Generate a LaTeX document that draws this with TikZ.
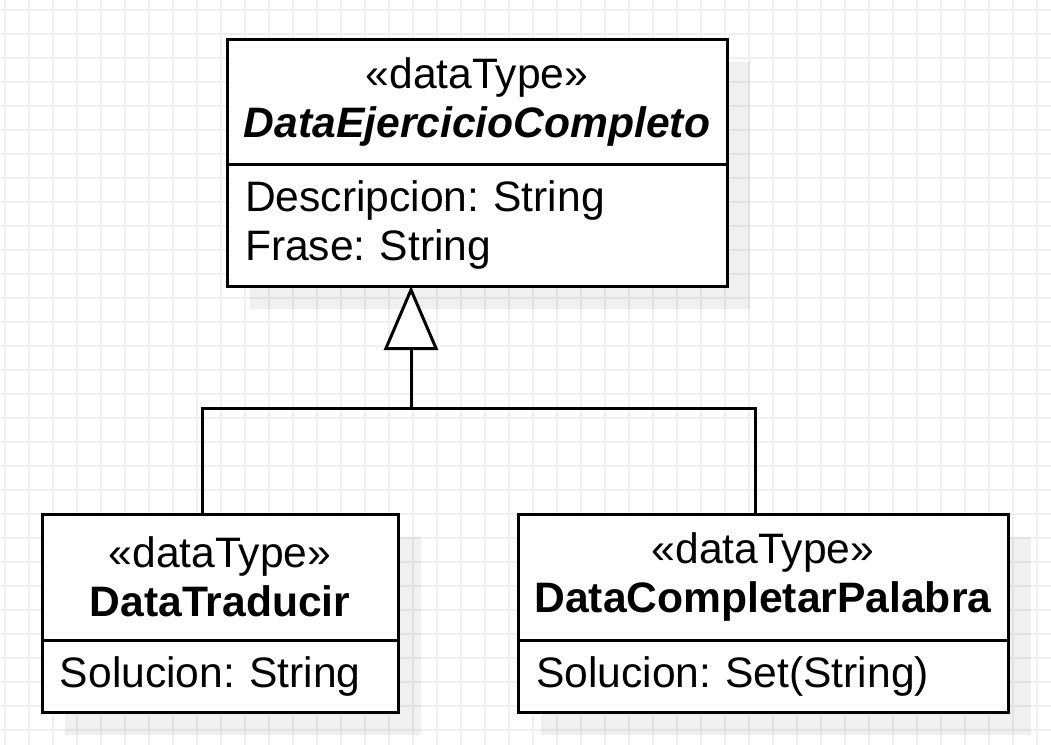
\documentclass[tikz,border=0pt]{standalone}
\usepackage{fontspec}
\setmainfont{Liberation Sans}
\usepackage{xcolor}
\definecolor{gridColor}{HTML}{F0F0F0}
\usetikzlibrary{positioning, arrows.meta, shadows}
\frenchspacing

\tikzset{
  umlFont/.style={font=\fontsize{21.3}{24.5}\selectfont},
  classHead/.style={draw=black, line width=1.5pt, fill=white, umlFont,
    align=center, inner sep=0pt, outer sep=0pt,
    drop shadow={shadow xshift=11.5pt, shadow yshift=-11.5pt, fill=black, opacity=0.06}},
  classBody/.style={classHead, align=left, inner xsep=9pt},
  assoc/.style={draw=black, line width=1.5pt},
  generalization/.style={assoc, -{Triangle[open, length=32pt, width=27pt, fill=white]}}
}

\begin{document}
\begin{tikzpicture}
  \useasboundingbox (0,0) rectangle (525.5pt,-372.5pt);
  \begin{scope}
    \clip (0,0) rectangle (525.5pt,-372.5pt);
    \draw[gridColor, line width=0.6pt, step=12pt, shift={(2.5pt,-5pt)}] (-12pt,-384pt) grid (528pt,12pt);
  \end{scope}

  % parent data type
  \node[classHead, minimum width=250pt, minimum height=62.5pt] (ejHead) at (238.5pt,-50.75pt)
    {«dataType»\\\textbf{\textit{DataEjercicioCompleto}}};
  \node[classBody, text width=232pt, minimum height=61pt, below=0pt of ejHead] (ejBody)
    {Descripcion: String\\Frase: String};

  % children
  \node[classHead, minimum width=178pt, minimum height=63pt] (tradHead) at (110pt,-288.5pt)
    {«dataType»\\\textbf{DataTraducir}};
  \node[classBody, text width=160pt, minimum height=36pt, below=0pt of tradHead] (tradBody)
    {Solucion: String};

  \node[classHead, minimum width=245pt, minimum height=63pt] (palHead) at (381.5pt,-288.5pt)
    {«dataType»\\\textbf{DataCompletarPalabra}};
  \node[classBody, text width=227pt, minimum height=36pt, below=0pt of palHead] (palBody)
    {Solucion: Set(String)};

  % generalization
  \coordinate (ejOut) at ([xshift=92pt]ejBody.south west);
  \coordinate (fork) at ([yshift=-61pt]ejOut);
  \coordinate (tradIn) at ([xshift=80pt]tradHead.north west);
  \coordinate (palIn) at ([xshift=118.5pt]palHead.north west);
  \draw[assoc] (tradIn) |- (fork) -| (palIn);
  \draw[generalization] (fork) -- (ejOut);
\end{tikzpicture}
\end{document}
